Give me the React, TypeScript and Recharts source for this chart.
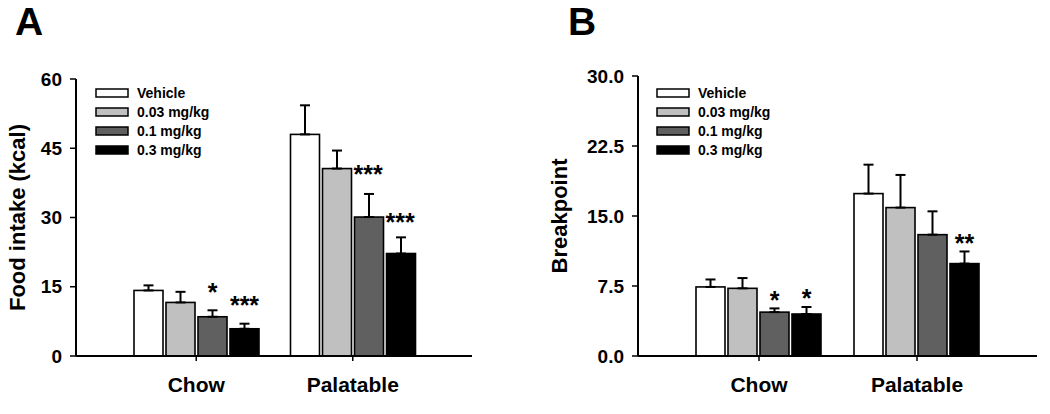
import React from 'react';
import { BarChart, Bar, XAxis, YAxis, ErrorBar } from 'recharts';

// ---------- data ----------
const categories = ['Chow', 'Palatable'];
const seriesNames = ['Vehicle', '0.03 mg/kg', '0.1 mg/kg', '0.3 mg/kg'];
const seriesColors = ['#ffffff', '#c0c0c0', '#606060', '#000000'];

// Panel A: Food intake (kcal)
const intakeVehicle = [14.2, 48.0];
const intake003 = [11.6, 40.6];
const intake01 = [8.5, 30.1];
const intake03 = [5.9, 22.2];
const intakeErrVehicle = [1.1, 6.3];
const intakeErr003 = [2.3, 3.9];
const intakeErr01 = [1.4, 5.0];
const intakeErr03 = [1.1, 3.5];
const intakeSigVehicle = ['', ''];
const intakeSig003 = ['', '***'];
const intakeSig01 = ['*', '***'];
const intakeSig03 = ['***', ''];
const intakeTicks = [0, 15, 30, 45, 60];

// Panel B: Breakpoint
const bpVehicle = [7.4, 17.4];
const bp003 = [7.25, 15.9];
const bp01 = [4.7, 13.0];
const bp03 = [4.5, 9.9];
const bpErrVehicle = [0.8, 3.1];
const bpErr003 = [1.1, 3.5];
const bpErr01 = [0.4, 2.5];
const bpErr03 = [0.75, 1.3];
const bpSigVehicle = ['', ''];
const bpSig003 = ['', ''];
const bpSig01 = ['*', ''];
const bpSig03 = ['*', '**'];
const bpTicks = [0, 7.5, 15, 22.5, 30];

const FONT = '"Liberation Sans", Arial, Helvetica, sans-serif';

function buildRows(vals: number[][], errs: number[][], sigs: string[][]) {
  return categories.map((cat, i) => {
    const row: any = { cat };
    vals.forEach((v, s) => {
      row['v' + s] = v[i];
      row['e' + s] = [0, errs[s][i]];
      row['g' + s] = sigs[s][i];
    });
    return row;
  });
}

const dataA = buildRows(
  [intakeVehicle, intake003, intake01, intake03],
  [intakeErrVehicle, intakeErr003, intakeErr01, intakeErr03],
  [intakeSigVehicle, intakeSig003, intakeSig01, intakeSig03]
);
const dataB = buildRows(
  [bpVehicle, bp003, bp01, bp03],
  [bpErrVehicle, bpErr003, bpErr01, bpErr03],
  [bpSigVehicle, bpSig003, bpSig01, bpSig03]
);

const STAR_FS = 25;

function makeShape(s: number, rightPlacement: boolean[], gapAbove: number) {
  return (props: any) => {
    const { x, y, width, height, payload, index, fill } = props;
    const val = payload['v' + s];
    const err = payload['e' + s][1];
    const sig = payload['g' + s];
    const pxPer = val ? height / val : 0;
    const errTop = y - err * pxPer;
    let star = null;
    if (sig) {
      if (rightPlacement[index]) {
        star = (
          <text x={x + width + 2} y={y + 0.57 * STAR_FS} textAnchor="start" fontSize={STAR_FS} fontWeight="bold" fontFamily={FONT} fill="#000">
            {sig}
          </text>
        );
      } else {
        star = (
          <text x={x + width / 2} y={errTop - gapAbove + 0.57 * STAR_FS} textAnchor="middle" fontSize={STAR_FS} fontWeight="bold" fontFamily={FONT} fill="#000">
            {sig}
          </text>
        );
      }
    }
    return (
      <g>
        <rect x={x} y={y} width={width} height={height} fill={fill} stroke="#000" strokeWidth={1.6} />
        {star}
      </g>
    );
  };
}

const tickStyle = { fontSize: 19, fontWeight: 'bold', fill: '#000', fontFamily: FONT };
const catTickStyle = { fontSize: 21, fontWeight: 'bold', fill: '#000', fontFamily: FONT };

function AxisTitle(props: any) {
  const { viewBox, value, dx } = props;
  const cx = viewBox.x + dx;
  const cy = viewBox.y + viewBox.height / 2;
  return (
    <text x={cx} y={cy} transform={`rotate(-90 ${cx} ${cy})`} textAnchor="middle" dominantBaseline="central" fontSize={22} fontWeight="bold" fontFamily={FONT} fill="#000">
      {value}
    </text>
  );
}

function Panel(props: any) {
  const { data, ticks, domain, fmt, title, titleDx, margin, yWidth, rightPlacement, gapAbove } = props;
  return (
    <BarChart width={525} height={414} data={data} margin={margin} barCategoryGap={16} barGap={3}>
      <XAxis
        dataKey="cat"
        padding={{ left: 42, right: 41 }}
        axisLine={{ stroke: '#000', strokeWidth: 2 }}
        tickLine={{ stroke: '#000', strokeWidth: 1.5 }}
        tickSize={5}
        tickMargin={16}
        tick={catTickStyle}
        height={40}
        interval={0}
      />
      <YAxis
        domain={domain}
        ticks={ticks}
        type="number"
        allowDataOverflow
        width={yWidth}
        axisLine={{ stroke: '#000', strokeWidth: 2 }}
        tickLine={{ stroke: '#000', strokeWidth: 1.5 }}
        tickSize={6}
        tickMargin={8}
        tick={tickStyle}
        tickFormatter={fmt}
        label={{ content: (p: any) => <AxisTitle {...p} value={title} dx={titleDx} /> }}
      />
      {seriesNames.map((name, s) => (
        <Bar key={name} dataKey={'v' + s} name={name} fill={seriesColors[s]} isAnimationActive={false} shape={makeShape(s, rightPlacement, gapAbove)}>
          <ErrorBar dataKey={'e' + s} width={5} stroke="#000" strokeWidth={2} direction="y" />
        </Bar>
      ))}
    </BarChart>
  );
}

function LegendBlock({ x }: { x: number }) {
  const rows = [93, 112, 131, 150];
  return (
    <g>
      {seriesNames.map((name, i) => (
        <g key={name}>
          <rect x={x} y={rows[i] - 4} width={32} height={8} fill={seriesColors[i]} stroke="#000" strokeWidth={1.5} />
          <text x={x + 41} y={rows[i] + 5} fontSize={14} fontWeight="bold" fontFamily={FONT} fill="#000">
            {name}
          </text>
        </g>
      ))}
    </g>
  );
}

export default function App() {
  return (
    <div style={{ position: 'absolute', left: 0, top: 0, width: 1050, height: 414, background: '#fff', fontFamily: FONT }}>
      <div style={{ position: 'absolute', left: 0, top: 0 }}>
        <Panel
          data={dataA}
          ticks={intakeTicks}
          domain={[0, 60]}
          fmt={(v: number) => String(v)}
          title="Food intake (kcal)"
          titleDx={17}
          margin={{ top: 79, right: 53, bottom: 18, left: 0 }}
          yWidth={76}
          rightPlacement={[false, true]}
          gapAbove={24}
        />
      </div>
      <div style={{ position: 'absolute', left: 525, top: 0 }}>
        <Panel
          data={dataB}
          ticks={bpTicks}
          domain={[0, 30]}
          fmt={(v: number) => v.toFixed(1)}
          title="Breakpoint"
          titleDx={34}
          margin={{ top: 76, right: 13, bottom: 18, left: 0 }}
          yWidth={113}
          rightPlacement={[false, false]}
          gapAbove={14}
        />
      </div>
      <svg width={1050} height={414} style={{ position: 'absolute', left: 0, top: 0, pointerEvents: 'none' }}>
        <text x={15} y={35} fontSize={39} fontWeight="bold" fontFamily={FONT} fill="#000">A</text>
        <text x={568} y={35} fontSize={39} fontWeight="bold" fontFamily={FONT} fill="#000">B</text>
        <LegendBlock x={96} />
        <LegendBlock x={657} />
      </svg>
    </div>
  );
}
